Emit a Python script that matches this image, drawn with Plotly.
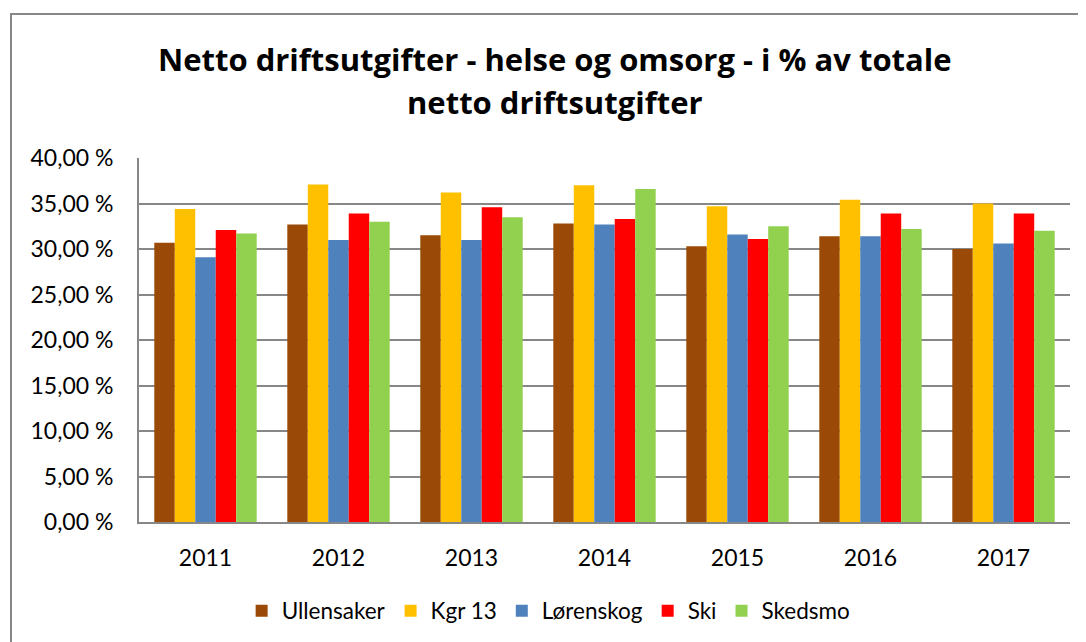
import plotly.graph_objects as go

years = ["2011", "2012", "2013", "2014", "2015", "2016", "2017"]
ullensaker = [30.7, 32.7, 31.5, 32.8, 30.3, 31.4, 30.0]
kgr13 = [34.4, 37.1, 36.2, 37.0, 34.7, 35.4, 35.0]
lorenskog = [29.1, 31.0, 31.0, 32.7, 31.6, 31.4, 30.6]
ski = [32.1, 33.9, 34.6, 33.3, 31.1, 33.9, 33.9]
skedsmo = [31.7, 33.0, 33.5, 36.6, 32.5, 32.2, 32.0]

series_names = ["Ullensaker", "Kgr 13", "Lørenskog", "Ski", "Skedsmo"]
series_values = [ullensaker, kgr13, lorenskog, ski, skedsmo]
colors = ["#9A4A06", "#FFC000", "#4F81BD", "#FF0000", "#92D050"]

tick_vals = [0, 5, 10, 15, 20, 25, 30, 35, 40]
tick_text = ["0,00 %", "5,00 %", "10,00 %", "15,00 %", "20,00 %",
             "25,00 %", "30,00 %", "35,00 %", "40,00 %"]

title_lines = ["Netto driftsutgifter - helse og omsorg - i % av totale",
               "netto driftsutgifter"]

FONT = "Lato"
TITLE_FONT = "Open Sans"

fig = go.Figure()
for name, vals, col in zip(series_names, series_values, colors):
    fig.add_trace(go.Bar(
        x=years, y=vals, name=name,
        marker=dict(color=col, line=dict(width=0)),
    ))

fig.update_layout(
    width=1078, height=634,
    paper_bgcolor="white", plot_bgcolor="white",
    barmode="group", bargap=0.23, bargroupgap=0,
    margin=dict(l=131, r=16, t=150, b=120, autoexpand=False),
    font=dict(family=FONT, color="black", size=19),
    legend=dict(
        orientation="h", x=0.44, xanchor="center",
        yref="container", y=1 - 603 / 634, yanchor="middle",
        font=dict(family=FONT, size=22.5),
        itemwidth=30, traceorder="normal",
    ),
    showlegend=True,
)

for txt, ypix in zip(title_lines, [59, 102]):
    fig.add_annotation(
        text="<b>" + txt + "</b>", xref="paper", yref="paper",
        x=(555 - 139) / 931, y=(522 - ypix) / 364,
        xanchor="center", yanchor="middle", showarrow=False,
        font=dict(family=TITLE_FONT, size=31, color="black"),
    )

fig.update_xaxes(
    showline=True, linecolor="#878787", linewidth=2,
    showgrid=False, ticks="", ticklabelstandoff=14,
    tickfont=dict(family=FONT, size=23),
)
fig.update_yaxes(
    range=[0, 40], tickvals=tick_vals, ticktext=tick_text,
    showgrid=True, gridcolor="#878787", gridwidth=1.5,
    showline=True, linecolor="#878787", linewidth=2,
    zeroline=False, ticks="", ticklabelstandoff=19,
    tickfont=dict(family=FONT, size=23),
)

# outer chart border
fig.add_shape(
    type="rect", xref="paper", yref="paper",
    x0=(11 - 139) / 931, x1=(1100 - 139) / 931,
    y0=(522 - 660) / 364, y1=(522 - 14) / 364,
    line=dict(color="#878787", width=2), fillcolor="rgba(0,0,0,0)",
    layer="below",
)

fig.write_html("out.html")
